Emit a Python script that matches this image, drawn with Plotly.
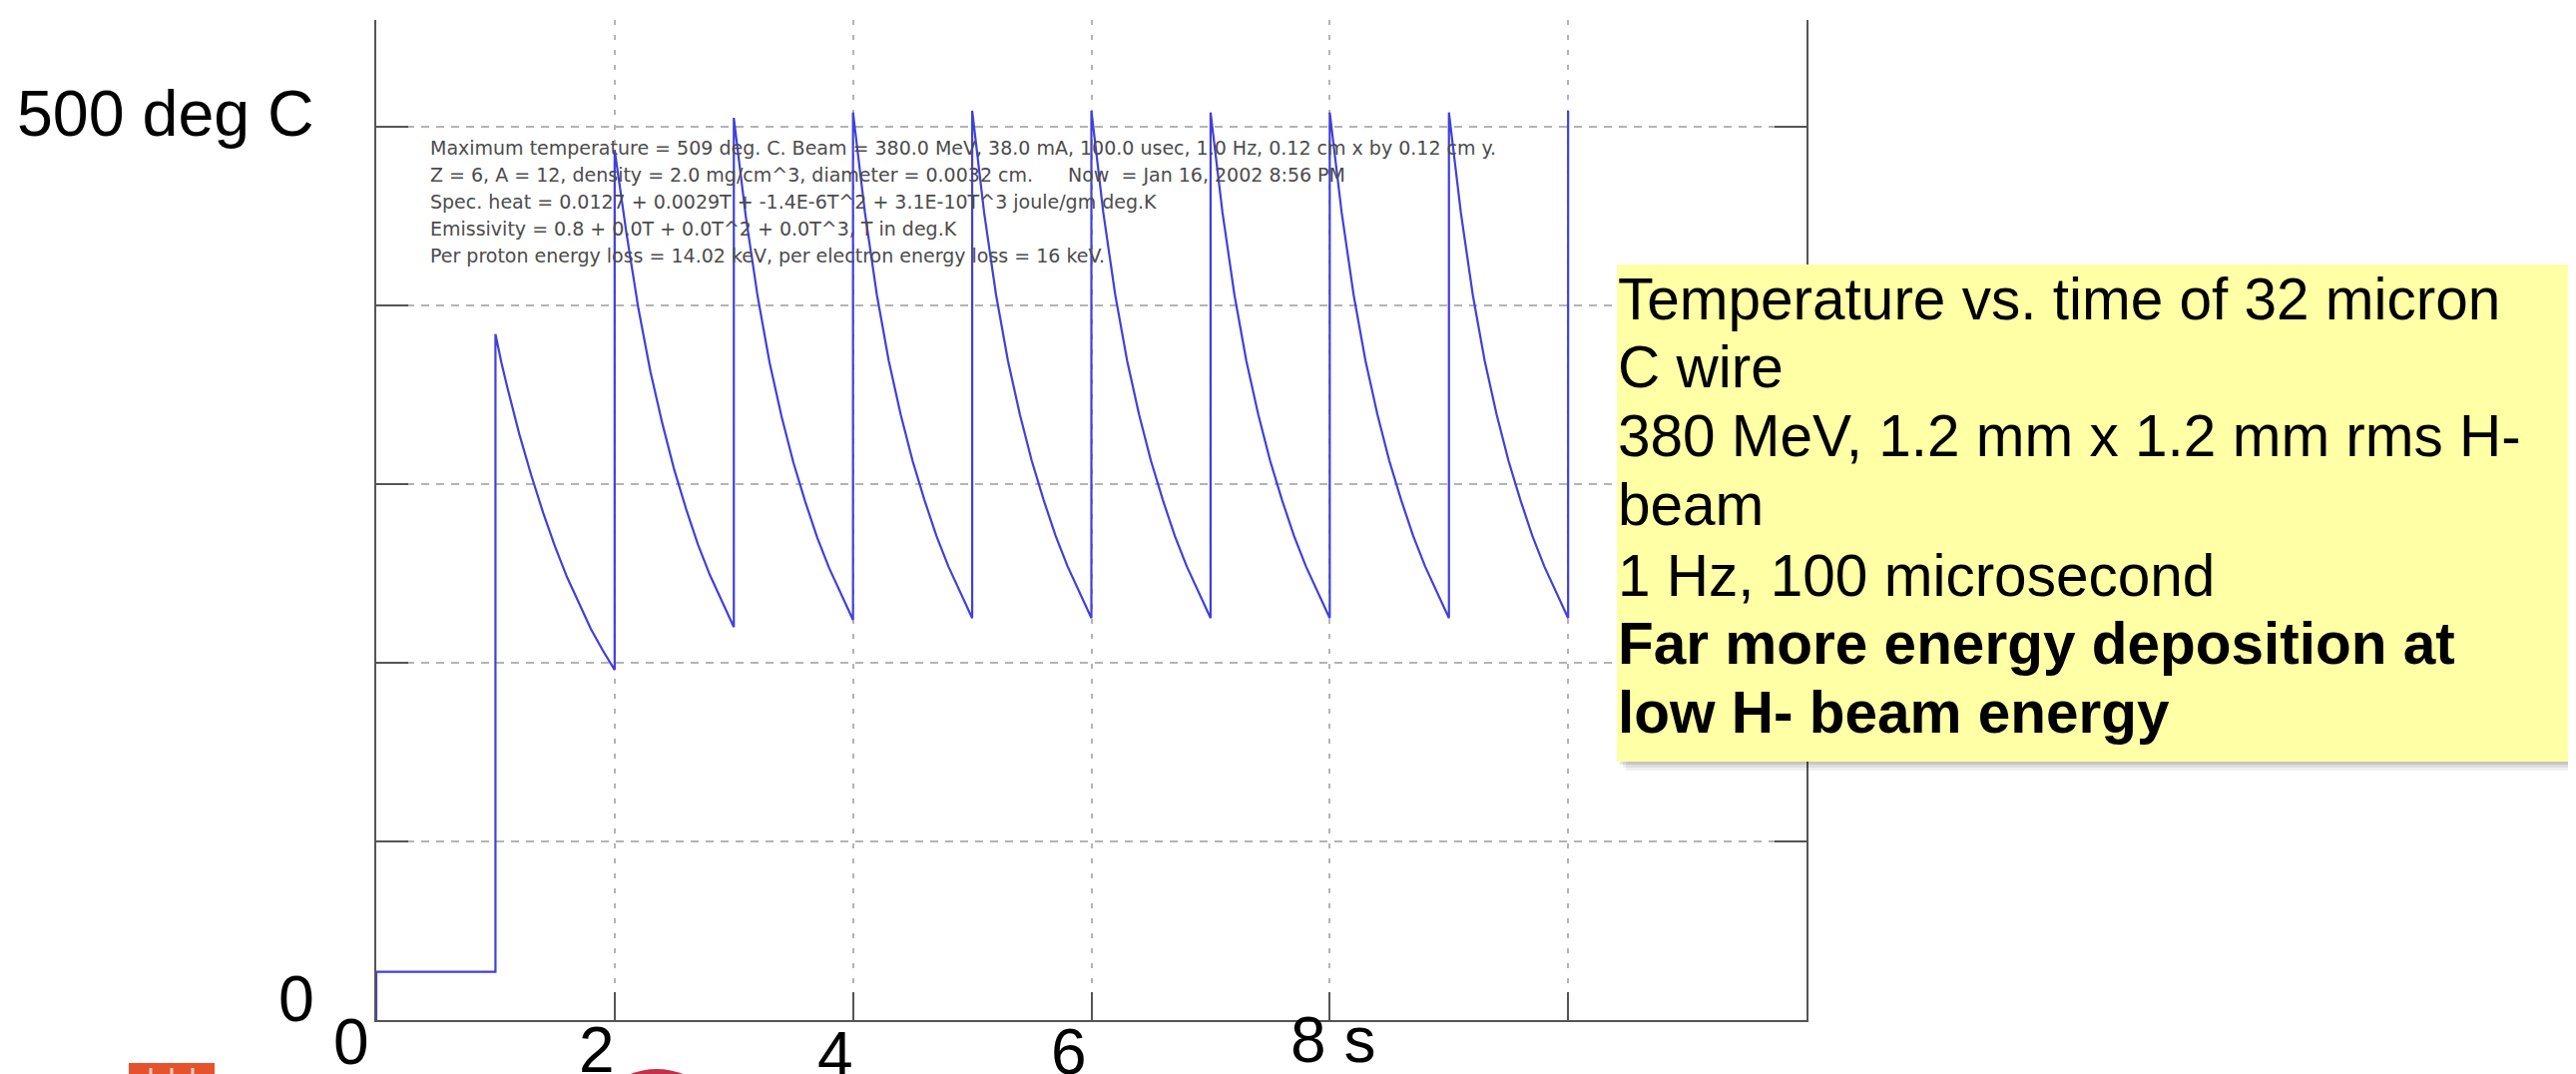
import plotly.graph_objects as go

# ---------------- data ----------------
start_time = [0, 0, 1]
start_temp = [0, 27, 27]

pulse_times = [1, 2, 3, 4, 5, 6, 7, 8, 9]
decay_offsets = [0, 0.05, 0.1, 0.2, 0.3, 0.4, 0.5, 0.6, 0.7, 0.8, 0.9, 1.0]

decay_1 = [384, 368, 354, 328, 305, 284, 265, 248, 233, 219, 207, 196]
decay_2 = [487, 462, 440, 398, 363, 334, 308, 286, 266, 249, 234, 220]
decay_3 = [505, 476, 450, 405, 368, 338, 312, 290, 270, 253, 238, 224]
decay_4 = [508, 479, 452, 406, 369, 339, 313, 291, 271, 254, 239, 225]
decay_5 = [509, 480, 452, 406, 369, 339, 313, 291, 271, 254, 239, 225]
decay_6 = [509, 480, 452, 406, 369, 339, 313, 291, 271, 254, 239, 225]
decay_7 = [508, 479, 452, 406, 369, 339, 313, 291, 271, 254, 239, 225]
decay_8 = [508, 479, 452, 406, 369, 339, 313, 291, 271, 254, 239, 225]
decay_9 = [508, 479, 452, 406, 369, 339, 313, 291, 271, 254, 239, 225]

final_time = [10]
final_temp = [509]

x_tick_values = [0, 2, 4, 6, 8, 10, 12]
y_tick_values = [0, 100, 200, 300, 400, 500]

big_x_labels = ["0", "2", "4", "6", "8 s"]
big_y_labels = ["500 deg C", "0"]

matlab_lines = [
    "Maximum temperature = 509 deg. C. Beam = 380.0 MeV, 38.0 mA, 100.0 usec, 1.0 Hz, 0.12 cm x by 0.12 cm y.",
    "Z = 6, A = 12, density = 2.0 mg/cm^3, diameter = 0.0032 cm.",
    "Spec. heat = 0.0127 + 0.0029T + -1.4E-6T^2 + 3.1E-10T^3 joule/gm deg.K",
    "Emissivity = 0.8 + 0.0T + 0.0T^2 + 0.0T^3, T in deg.K",
    "Per proton energy loss = 14.02 keV, per electron energy loss = 16 keV.",
]
matlab_now = "Now  = Jan 16, 2002 8:56 PM"

box_lines = [
    "Temperature vs. time of 32 micron",
    "C wire",
    "380 MeV, 1.2 mm x 1.2 mm rms H-",
    "beam",
    "1 Hz, 100 microsecond",
    "<b>Far more energy deposition at</b>",
    "<b>low H- beam energy</b>",
]

# ---------------- build series ----------------
decays = [decay_1, decay_2, decay_3, decay_4, decay_5, decay_6, decay_7, decay_8, decay_9]
xs = list(start_time)
ys = list(start_temp)
for t0, dec in zip(pulse_times, decays):
    for off, temp in zip(decay_offsets, dec):
        xs.append(t0 + off)
        ys.append(temp)
xs += final_time
ys += final_temp

# ---------------- layout geometry ----------------
W, H = 2581, 1076
L, R, T, B = 369, 779, 12, 62
PW, PH = W - L - R, H - T - B


def px_x(p):
    return (p - L) / PW


def px_y(p):
    return (H - B - p) / PH


fig = go.Figure()
fig.add_trace(go.Scatter(x=xs, y=ys, mode="lines",
                         line=dict(color="#4040dc", width=2.2),
                         showlegend=False, hoverinfo="skip"))

fig.update_layout(
    width=W, height=H,
    margin=dict(l=L, r=R, t=T, b=B),
    paper_bgcolor="white", plot_bgcolor="white",
    showlegend=False,
)
fig.update_xaxes(range=[0, 12], tickvals=x_tick_values, showticklabels=False,
                 ticks="inside", ticklen=28, tickwidth=2, tickcolor="#555",
                 showline=True, linecolor="#555", linewidth=2, mirror=False,
                 showgrid=True, gridcolor="#b4b4b4", gridwidth=1.5, griddash="5px,10px",
                 zeroline=False)
fig.update_yaxes(range=[0, PH / 1.79], tickvals=y_tick_values, showticklabels=False,
                 ticks="inside", ticklen=32, tickwidth=2, tickcolor="#555",
                 showline=True, linecolor="#555", linewidth=2, mirror="ticks",
                 showgrid=True, gridcolor="#b4b4b4", gridwidth=1.5, griddash="8px,7px",
                 zeroline=False)

shapes = []
# yellow call-out box with soft shadow
for off, alpha in [(9, 0.06), (6, 0.08), (3, 0.10)]:
    shapes.append(dict(type="rect", xref="paper", yref="paper", layer="above",
                       x0=px_x(1612 + off), x1=px_x(2571 + off),
                       y0=px_y(755 + off), y1=px_y(257 + off),
                       fillcolor=f"rgba(0,0,0,{alpha})", line=dict(width=0)))
shapes.append(dict(type="rect", xref="paper", yref="paper", layer="above",
                   x0=px_x(1612), x1=px_x(2571), y0=px_y(755), y1=px_y(257),
                   fillcolor="#ffffa6", line=dict(width=0)))
# partial logos at the bottom edge
shapes.append(dict(type="rect", xref="paper", yref="paper", layer="above",
                   x0=px_x(121), x1=px_x(207), y0=px_y(1080), y1=px_y(1057),
                   fillcolor="#e4532c", line=dict(width=0)))
for sx in [143, 164, 185]:
    shapes.append(dict(type="line", xref="paper", yref="paper", layer="above",
                       x0=px_x(sx), x1=px_x(sx), y0=px_y(1080), y1=px_y(1062),
                       line=dict(color="rgba(255,255,255,0.7)", width=3)))
shapes.append(dict(type="circle", xref="paper", yref="paper", layer="above",
                   x0=px_x(577), x1=px_x(723), y0=px_y(1209), y1=px_y(1063),
                   fillcolor="#c4304a", line=dict(width=0)))
fig.update_layout(shapes=shapes)

ann = []
slide_font = "Liberation Sans, Arial, sans-serif"
# big overlay tick labels
x_label_pos = [(344, 1036), (590, 1044), (829, 1049), (1063, 1046), (1327, 1034)]
for txt, (cx, cy) in zip(big_x_labels, x_label_pos):
    ann.append(dict(text=txt, x=px_x(cx), y=px_y(cy), xref="paper", yref="paper",
                    xanchor="center", yanchor="middle", showarrow=False,
                    font=dict(family=slide_font, size=64, color="black")))
y_label_pos = [(309, 106), (309, 993)]
for txt, (rx, cy) in zip(big_y_labels, y_label_pos):
    ann.append(dict(text=txt, x=px_x(rx), y=px_y(cy), xref="paper", yref="paper",
                    xanchor="right", yanchor="middle", showarrow=False,
                    font=dict(family=slide_font, size=64.5, color="black")))

# MATLAB info text
matlab_y = [140, 167, 194, 221, 248]
for txt, cy in zip(matlab_lines, matlab_y):
    ann.append(dict(text=txt, x=px_x(421), y=px_y(cy), xref="paper", yref="paper",
                    xanchor="left", yanchor="middle", showarrow=False,
                    font=dict(family="DejaVu Sans", size=19, color="#4c4c4c")))
ann.append(dict(text=matlab_now, x=px_x(1060), y=px_y(167), xref="paper", yref="paper",
                xanchor="left", yanchor="middle", showarrow=False,
                font=dict(family="DejaVu Sans", size=19, color="#4c4c4c")))

# call-out box text
box_y = [291, 360, 428, 497, 568, 636, 705]
for txt, cy in zip(box_lines, box_y):
    ann.append(dict(text=txt, x=px_x(1611), y=px_y(cy), xref="paper", yref="paper",
                    xanchor="left", yanchor="middle", showarrow=False,
                    font=dict(family=slide_font, size=58.5, color="black")))

fig.update_layout(annotations=ann)
fig.write_html("out.html")
